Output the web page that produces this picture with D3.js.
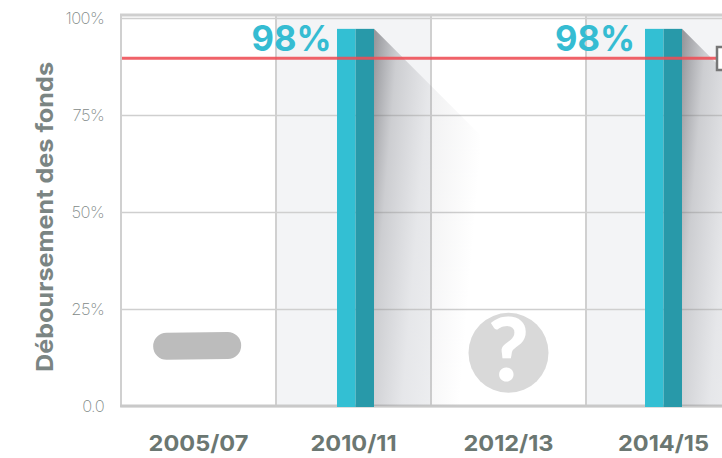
<!DOCTYPE html>
<html lang="fr">
<head>
    <meta charset="UTF-8">
    <title>Déboursement des fonds</title>
    <script src="https://cdn.jsdelivr.net/npm/d3@7/dist/d3.min.js"></script>
    <style>
        html, body{
            margin: 0;
            overflow: hidden;
            background: white;
        }
        svg{
            display: block;
        }
        .yAxis text{
            font-family: Inter, sans-serif;
            font-weight: 200;
            font-size: 16.5px;
            letter-spacing: -0.6px;
            fill: #7f8988;
        }
        .xAxis text{
            font-family: Inter, sans-serif;
            font-weight: 700;
            font-size: 22px;
            fill: #6b7772;
        }
        .yAxis .tick line{
            stroke: #cfcfcf;
            stroke-width: 1.5;
        }
        .yAxis path, .xAxis path, .xAxis .tick line{
            stroke: none;
        }
    </style>
</head>
<body>
<svg id="main" width="722" height="458" viewBox="0 0 722 458"></svg>
<script>
    // values
    const years = ['2005/07', '2010/11', '2012/13', '2014/15']
    const barYears = ['2010/11', '2014/15']
    const barValues = [97.2, 97.2]
    const barLabels = ['98%', '98%']
    const yTicks = [0, 25, 50, 75, 100]
    const yTickLabels = ['0.0', '25%', '50%', '75%', '100%']
    const shadedYears = ['2010/11', '2014/15']
    const targetValue = 89.6
    const pillYear = '2005/07'
    const pillRange = [12, 19]
    const unknownYear = '2012/13'
    const unknownValue = 13.7

    const width = 722, height = 458
    const margin = {top: 15, bottom: 52, left: 121}
    const y100 = 18

    const svg = d3.select('svg#main')
    const xScale = d3.scaleBand().domain(years).range([margin.left, 741])
    const barScale = d3.scalePoint().domain(barYears).range([355.5, 663.5])
    const labelScale = d3.scalePoint().domain(barYears).range([291.5, 595])
    const yScale = d3.scaleLinear().domain([0, 100]).range([height - margin.bottom, y100])
    const y0 = yScale(0)
    const barHalf = 18.5

    // shading of every other column
    svg.append('g').selectAll('rect')
        .data(shadedYears)
        .enter().append('rect')
        .attr('x', d => xScale(d))
        .attr('y', margin.top)
        .attr('width', xScale.bandwidth())
        .attr('height', y0 - margin.top)
        .attr('fill', '#f3f4f6')

    // grid
    const yAxisGroup = svg.append('g')
        .attr('class', 'yAxis')
        .attr('transform', `translate(${margin.left},0)`)
    yAxisGroup.call(d3.axisLeft(yScale)
        .tickValues(yTicks)
        .tickFormat((_, i) => yTickLabels[i])
        .tickSize(-(width - margin.left))
        .tickPadding(17))

    const grid = svg.append('g').attr('stroke', '#d0d0d0').attr('stroke-width', 2)
    grid.selectAll('line')
        .data(years)
        .enter().append('line')
        .attr('x1', d => xScale(d))
        .attr('x2', d => xScale(d))
        .attr('y1', margin.top)
        .attr('y2', y0)
    svg.append('line')
        .attr('x1', margin.left - 1).attr('x2', width)
        .attr('y1', margin.top).attr('y2', margin.top)
        .attr('stroke', '#cfcfcf').attr('stroke-width', 3)
    svg.append('line')
        .attr('x1', margin.left - 1).attr('x2', width)
        .attr('y1', y0).attr('y2', y0)
        .attr('stroke', '#c9c9c9').attr('stroke-width', 3)

    // long shadow behind the bars
    const defs = svg.append('defs')
    const shadow = defs.append('linearGradient')
        .attr('id', 'shadow')
        .attr('x1', 0).attr('y1', 0.06)
        .attr('x2', 1).attr('y2', 0.36)
    shadow.append('stop').attr('offset', 0).attr('stop-color', '#55565c').attr('stop-opacity', 0.58)
    shadow.append('stop').attr('offset', 0.2).attr('stop-color', '#6a6b72').attr('stop-opacity', 0.28)
    shadow.append('stop').attr('offset', 0.5).attr('stop-color', '#70717a').attr('stop-opacity', 0.1)
    shadow.append('stop').attr('offset', 1).attr('stop-color', '#70717a').attr('stop-opacity', 0)

    const shadowRun = 106
    svg.append('g').selectAll('path')
        .data(barYears)
        .enter().append('path')
        .attr('d', (d, i) => {
            const x = barScale(d) + barHalf, top = yScale(barValues[i])
            return `M${x},${top}L${x + shadowRun},${top + shadowRun}V${y0}H${x}Z`
        })
        .attr('fill', 'url(#shadow)')

    // bars, two tone
    const bars = svg.append('g').selectAll('g')
        .data(barYears)
        .enter().append('g')
    bars.append('rect')
        .attr('x', d => barScale(d) - barHalf)
        .attr('y', (_, i) => yScale(barValues[i]))
        .attr('width', barHalf)
        .attr('height', (_, i) => y0 - yScale(barValues[i]) + 1)
        .attr('fill', '#33bfd3')
    bars.append('rect')
        .attr('x', d => barScale(d))
        .attr('y', (_, i) => yScale(barValues[i]))
        .attr('width', barHalf)
        .attr('height', (_, i) => y0 - yScale(barValues[i]) + 1)
        .attr('fill', '#2899a9')
    bars.append('text')
        .text((_, i) => barLabels[i])
        .attr('x', d => labelScale(d))
        .attr('y', (_, i) => yScale(barValues[i]) + 22.5)
        .attr('text-anchor', 'middle')
        .attr('font-family', 'Inter, sans-serif')
        .attr('font-weight', 700)
        .attr('font-size', 36)
        .attr('textLength', 80)
        .attr('lengthAdjust', 'spacingAndGlyphs')
        .attr('fill', '#35bcd2')

    // target line
    svg.append('line')
        .attr('x1', margin.left + 1).attr('x2', 716)
        .attr('y1', yScale(targetValue)).attr('y2', yScale(targetValue))
        .attr('stroke', '#ee4c54').attr('stroke-opacity', 0.88).attr('stroke-width', 3)

    // edge of the box cut off by the picture
    svg.append('rect')
        .attr('x', 717).attr('y', 47)
        .attr('width', 30).attr('height', 23)
        .attr('fill', 'white').attr('stroke', '#777').attr('stroke-width', 2.5)

    // no data: pill and question mark
    const px = xScale(pillYear) + xScale.bandwidth() / 2 - 1.5
    svg.append('rect')
        .attr('x', px - 44)
        .attr('y', yScale(pillRange[1]))
        .attr('width', 88)
        .attr('height', yScale(pillRange[0]) - yScale(pillRange[1]))
        .attr('rx', 13.5)
        .attr('fill', '#bcbcbc')
        .attr('transform', `rotate(-0.7 ${px} ${yScale(pillRange[1])})`)

    const ux = xScale(unknownYear) + xScale.bandwidth() / 2
    const uy = yScale(unknownValue)
    svg.append('circle')
        .attr('cx', ux).attr('cy', uy).attr('r', 40)
        .attr('fill', '#d9d9d9')
    svg.append('text')
        .text('?')
        .attr('transform', `translate(${ux},${uy + 28})`)
        .attr('text-anchor', 'middle')
        .attr('font-family', 'Lato, sans-serif')
        .attr('font-weight', 900)
        .attr('font-size', 88)
        .attr('fill', 'white')

    // category labels
    const xAxisGroup = svg.append('g')
        .attr('class', 'xAxis')
        .attr('transform', `translate(0,${y0})`)
    xAxisGroup.call(d3.axisBottom(xScale).tickSize(0).tickPadding(29))
    xAxisGroup.selectAll('text')
        .attr('transform', 'scale(1.07,1)')

    // y title
    svg.append('text')
        .text('Déboursement des fonds')
        .attr('transform', 'translate(53,372) rotate(-90)')
        .attr('font-family', 'Inter, sans-serif')
        .attr('font-weight', 700)
        .attr('font-size', 23.5)
        .attr('textLength', 310)
        .attr('lengthAdjust', 'spacingAndGlyphs')
        .attr('fill', '#7b8583')
</script>
</body>
</html>
